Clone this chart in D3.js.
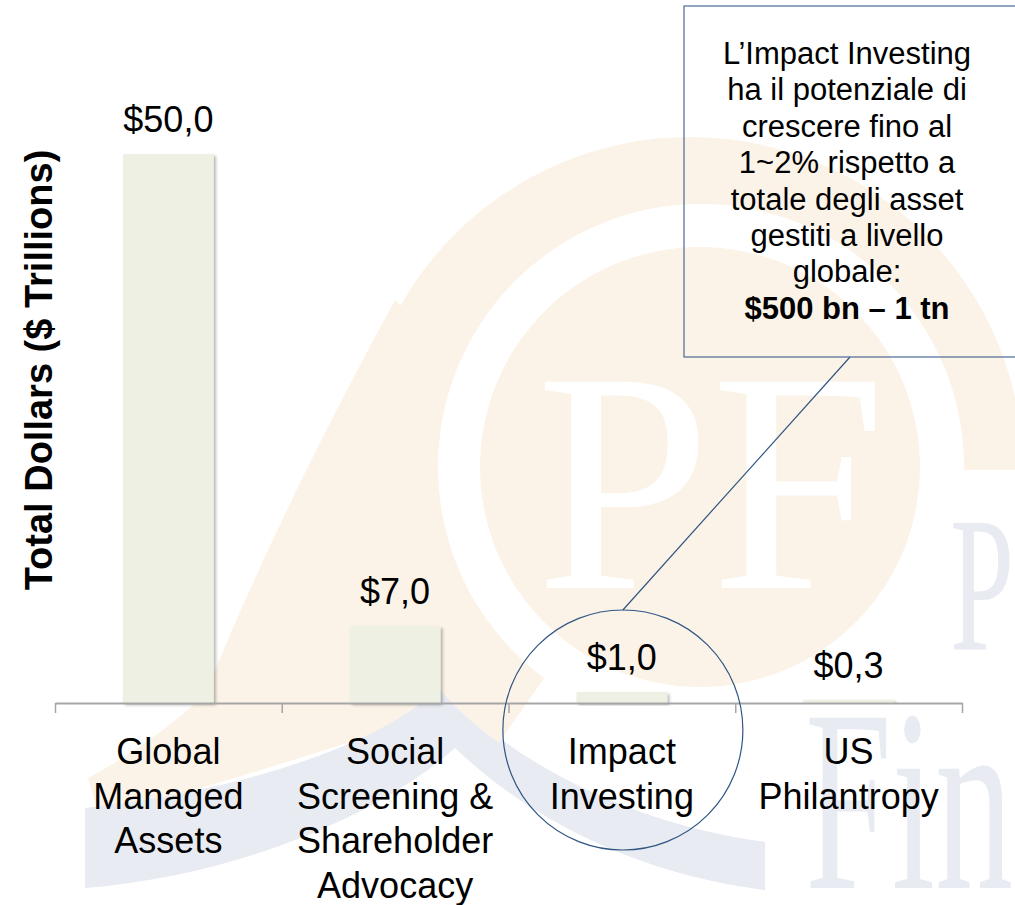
<!DOCTYPE html>
<html>
<head>
<meta charset="utf-8">
<script src="https://cdn.jsdelivr.net/npm/d3@7"></script>
<style>
  html, body { margin: 0; padding: 0; background: #ffffff; }
  svg { display: block; }
  text { font-family: "Liberation Sans", Arial, sans-serif; }
</style>
</head>
<body>
<svg id="chart" width="1015" height="905"></svg>
<script>
// ---------------- data ----------------
const categories = ["Global Managed Assets", "Social Screening & Shareholder Advocacy", "Impact Investing", "US Philantropy"];
const categoryLines = [
  ["Global", "Managed", "Assets"],
  ["Social", "Screening &", "Shareholder", "Advocacy"],
  ["Impact", "Investing"],
  ["US", "Philantropy"]
];
const values = [50.0, 7.0, 1.0, 0.3];
const yAxisTitle = "Total Dollars ($ Trillions)";
const calloutLines = [
  "L\u2019Impact Investing",
  "ha il potenziale di",
  "crescere fino al",
  "1~2% rispetto a",
  "totale degli asset",
  "gestiti a livello",
  "globale:"
];
const calloutBold = "$500 bn \u2013 1 tn";
const highlighted = "Impact Investing";

// ---------------- setup ----------------
const svg = d3.select("#chart");
const left = 55, right = 962, baseY = 703, topY = 154;

const locale = d3.formatLocale({decimal: ",", thousands: ".", grouping: [3], currency: ["$", ""]});
const fmt = locale.format("$.1f");

const x = d3.scaleBand().domain(categories).range([left, right]).paddingInner(0.6).paddingOuter(0.3);
const y = d3.scaleLinear().domain([0, 50]).range([baseY, topY]);

const defs = svg.append("defs");
const shadow = defs.append("filter").attr("id", "shadow").attr("x", "-20%").attr("y", "-20%").attr("width", "140%").attr("height", "140%");
shadow.append("feDropShadow").attr("dx", 2).attr("dy", 2).attr("stdDeviation", 1.5)
  .attr("flood-color", "#000").attr("flood-opacity", 0.3);

defs.append("clipPath").attr("id", "ringClip")
  .append("path").attr("d", "M0,0 L1100,0 L1100,470 L690,470 L346,961 L0,961 Z");

// ---------------- watermark (decorative background logo) ----------------
const wm = svg.append("g").attr("class", "watermark");
const orange = "#fcf3e8", blue = "#e8ebf2";
const serif = "'Liberation Serif', 'DejaVu Serif', serif";
// orange tail sweeping to lower left
wm.append("path")
  .attr("d", "M395,300 Q275,520 205,695 Q150,745 88,778 L100,818 Q300,760 480,700 L520,420 Z")
  .attr("fill", orange);
// blue swoosh (two legs meeting under the ring)
wm.append("path")
  .attr("d", "M85,808 C250,790 390,740 440,686 C520,770 640,825 765,842 L765,890 C640,875 530,820 455,748 C380,815 240,875 85,888 Z")
  .attr("fill", blue);
// outer ring
wm.append("circle").attr("cx", 690).attr("cy", 470).attr("r", 333)
  .attr("fill", orange).attr("clip-path", "url(#ringClip)");
wm.append("circle").attr("cx", 701).attr("cy", 467).attr("r", 263).attr("fill", "#ffffff");
// inner disk
wm.append("circle").attr("cx", 700).attr("cy", 467).attr("r", 220).attr("fill", orange);
wm.append("text").attr("x", 711).attr("y", 588).attr("text-anchor", "middle")
  .style("font-family", serif).style("font-size", "315px").attr("fill", "#ffffff").text("PF");
// right side letters
wm.append("text").attr("transform", "translate(950,650) scale(0.6,1)")
  .style("font-family", serif).style("font-size", "192px").attr("fill", blue).text("P");
wm.append("text").attr("transform", "translate(805,888) scale(0.6,1)")
  .style("font-family", serif).style("font-size", "260px").attr("fill", blue).text("Fin");

// ---------------- bars ----------------
svg.append("g").selectAll("rect").data(values).join("rect")
  .attr("x", (d, i) => x(categories[i]))
  .attr("y", d => y(d))
  .attr("width", x.bandwidth())
  .attr("height", d => baseY - y(d))
  .attr("fill", "#edf0e3")
  .attr("filter", "url(#shadow)");

// ---------------- axis ----------------
const xb = d3.scaleLinear().domain([0, categories.length]).range([left, right]);
const axis = svg.append("g").attr("transform", `translate(0,${baseY})`)
  .call(d3.axisBottom(xb).tickValues(d3.range(categories.length + 1)).tickFormat("").tickSizeInner(10).tickSizeOuter(0));
axis.select(".domain").attr("stroke", "#a6a6a6").attr("stroke-width", 2);
axis.selectAll(".tick line").attr("stroke", "#a6a6a6").attr("stroke-width", 1.5);

// value labels
svg.append("g").selectAll("text").data(values).join("text")
  .attr("x", (d, i) => x(categories[i]) + x.bandwidth() / 2)
  .attr("y", d => y(d) - 22)
  .attr("text-anchor", "middle")
  .style("font-size", "36px").attr("fill", "#000")
  .text(d => fmt(d));

// category labels
const cat = svg.append("g").selectAll("text").data(categoryLines).join("text")
  .attr("text-anchor", "middle")
  .style("font-size", "36px").attr("fill", "#000");
cat.each(function(lines, i) {
  const cx = x(categories[i]) + x.bandwidth() / 2;
  d3.select(this).selectAll("tspan").data(lines).join("tspan")
    .attr("x", cx).attr("y", (l, j) => 764 + j * 44.5).text(l => l);
});

// y axis title
svg.append("text")
  .attr("transform", "translate(52,370) rotate(-90)")
  .attr("text-anchor", "middle")
  .style("font-size", "38px").style("font-weight", "bold").attr("fill", "#000")
  .text(yAxisTitle);

// ---------------- annotation ----------------
const hiX = x(highlighted) + x.bandwidth() / 2;
const ringR = 120, ringCY = 730;
svg.append("circle").attr("cx", hiX + 1).attr("cy", ringCY).attr("r", ringR)
  .attr("fill", "none").attr("stroke", "#2f5583").attr("stroke-width", 1.2);

const box = {x: 684, y: 6, w: 345, h: 351};
svg.append("line")
  .attr("x1", hiX + 1).attr("y1", ringCY - ringR)
  .attr("x2", 850).attr("y2", box.y + box.h)
  .attr("stroke", "#2f5583").attr("stroke-width", 1.2);
svg.append("rect").attr("x", box.x).attr("y", box.y).attr("width", box.w).attr("height", box.h)
  .attr("fill", "none").attr("stroke", "#4a6a94").attr("stroke-width", 1.2);

const ct = svg.append("text").attr("text-anchor", "middle").style("font-size", "31px").attr("fill", "#000");
ct.selectAll("tspan").data(calloutLines.concat([calloutBold])).join("tspan")
  .attr("x", 847).attr("y", (d, i) => 64 + i * 36.4)
  .style("font-weight", (d, i) => i === calloutLines.length ? "bold" : "normal")
  .text(d => d);
</script>
</body>
</html>
